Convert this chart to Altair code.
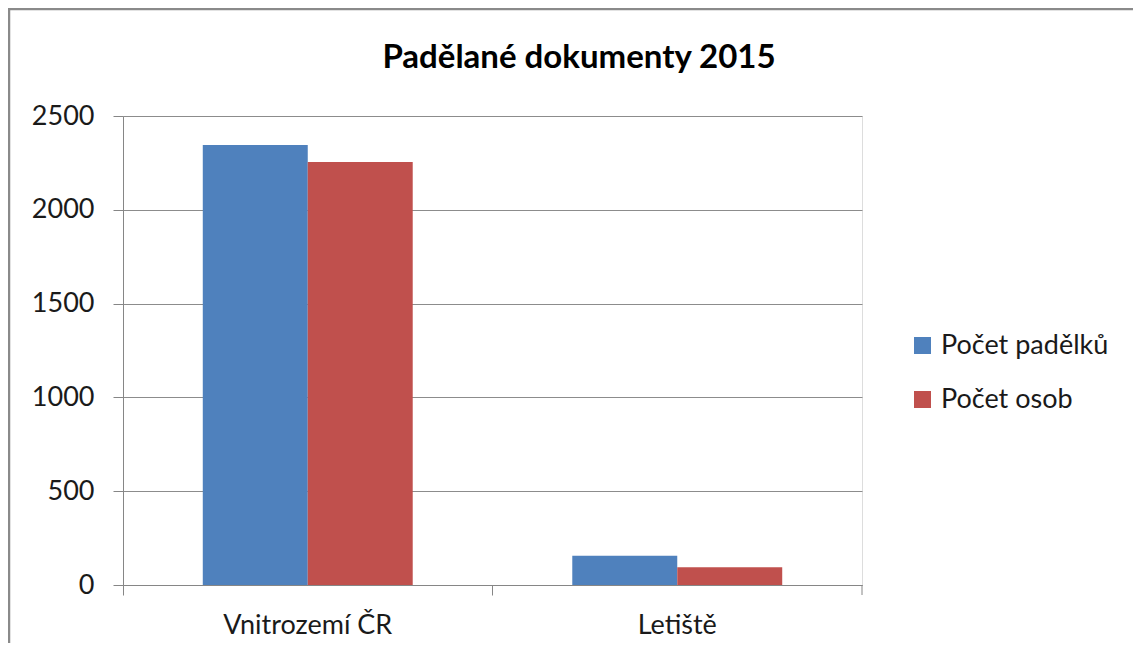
import altair as alt
import pandas as pd

categories = ["Vnitrozemí ČR", "Letiště"]
series = ["Počet padělků", "Počet osob"]
padelky = [2345, 156]
osoby = [2255, 94]
colors = ["#4F81BD", "#C0504D"]
y_ticks = [0, 500, 1000, 1500, 2000, 2500]
title_text = "Padělané dokumenty 2015"

rows = []
for i, c in enumerate(categories):
    rows.append({"kategorie": c, "serie": series[0], "hodnota": padelky[i]})
    rows.append({"kategorie": c, "serie": series[1], "hodnota": osoby[i]})
df = pd.DataFrame(rows)

FONT = "Lato"
AX = "#868686"
LBL = "#1a1a1a"

bars = alt.Chart(df).mark_bar(stroke=None).encode(
    x=alt.X("kategorie:N", sort=categories, title=None,
            scale=alt.Scale(paddingInner=0, paddingOuter=0),
            axis=alt.Axis(labelAngle=0, labelFontSize=27, labelFont=FONT, labelColor=LBL,
                          labelPadding=17, tickSize=10, tickColor=AX, domainColor=AX,
                          bandPosition=0, grid=False)),
    xOffset=alt.XOffset("serie:N", sort=series,
                        scale=alt.Scale(paddingInner=0, paddingOuter=0.76)),
    y=alt.Y("hodnota:Q", title=None,
            scale=alt.Scale(domain=[0, 2500], nice=False),
            axis=alt.Axis(values=y_ticks, format="d", labelFontSize=27, labelFont=FONT,
                          labelColor=LBL, labelPadding=19, tickSize=10, tickColor=AX,
                          domainColor=AX, gridColor="#8c8c8c", grid=True)),
    color=alt.Color("serie:N", sort=series,
                    scale=alt.Scale(domain=series, range=colors),
                    legend=alt.Legend(title=None, orient="none", legendX=786, legendY=216,
                                      symbolType="square", symbolSize=289, symbolStrokeWidth=0,
                                      labelFontSize=27, labelFont=FONT, labelColor=LBL,
                                      labelLimit=400, rowPadding=26, labelOffset=5)),
)

one = pd.DataFrame({"t": [title_text]})
title = alt.Chart(one).mark_text(fontSize=33, fontWeight="bold", font=FONT, color="#000000",
                                 baseline="alphabetic", align="center").encode(
    x=alt.value(456), y=alt.value(-48), text="t:N")

end_tick = alt.Chart(one).mark_rule(color=AX, strokeWidth=1).encode(
    x=alt.value(739), y=alt.value(469), y2=alt.value(479))

frame = alt.Chart(one).mark_rect(fill=None, stroke="#8a8a8a", strokeWidth=2.5).encode(
    x=alt.value(-114), y=alt.value(-107), x2=alt.value(1060), y2=alt.value(580))

chart = alt.layer(frame, bars, end_tick, title).properties(
    width=739, height=469,
    autosize=alt.AutoSizeParams(type="none"),
    padding={"left": 115, "top": 108, "right": 271, "bottom": 58},
).configure_view(stroke=None).configure(background="white")

chart.save("out.html", embed_options={"renderer": "svg", "actions": False})
